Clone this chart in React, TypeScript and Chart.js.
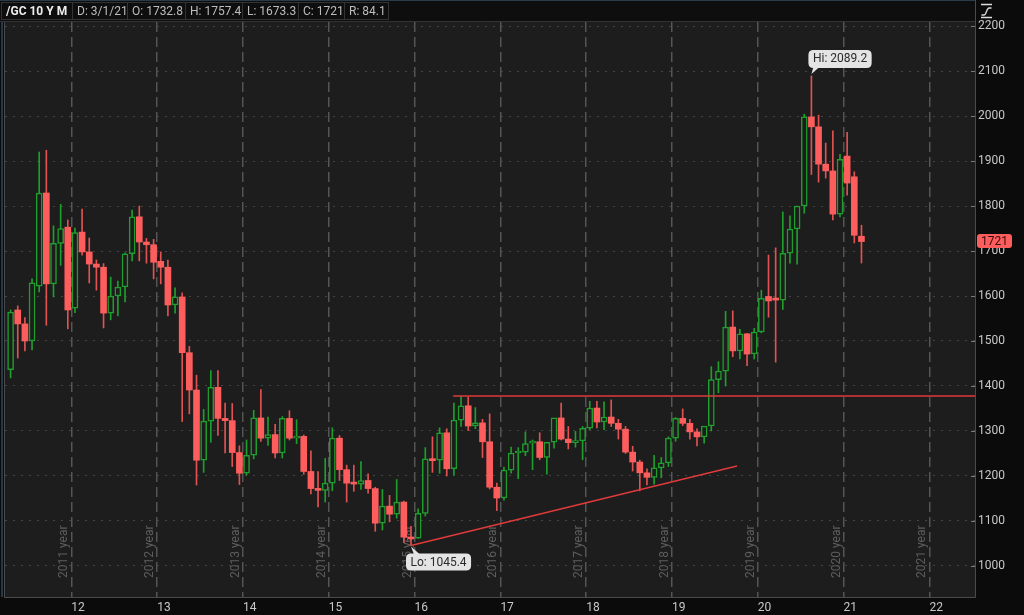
import React, { useEffect, useRef } from 'react';
import { Chart, registerables } from 'chart.js';

Chart.register(...registerables);

// ---- data: monthly /GC candles, Apr 2011 .. Mar 2021 ----
const months = [
  'Apr 2011', 'May 2011', 'Jun 2011', 'Jul 2011', 'Aug 2011', 'Sep 2011', 'Oct 2011', 'Nov 2011', 'Dec 2011',
  'Jan 2012', 'Feb 2012', 'Mar 2012', 'Apr 2012', 'May 2012', 'Jun 2012', 'Jul 2012', 'Aug 2012', 'Sep 2012', 'Oct 2012', 'Nov 2012', 'Dec 2012',
  'Jan 2013', 'Feb 2013', 'Mar 2013', 'Apr 2013', 'May 2013', 'Jun 2013', 'Jul 2013', 'Aug 2013', 'Sep 2013', 'Oct 2013', 'Nov 2013', 'Dec 2013',
  'Jan 2014', 'Feb 2014', 'Mar 2014', 'Apr 2014', 'May 2014', 'Jun 2014', 'Jul 2014', 'Aug 2014', 'Sep 2014', 'Oct 2014', 'Nov 2014', 'Dec 2014',
  'Jan 2015', 'Feb 2015', 'Mar 2015', 'Apr 2015', 'May 2015', 'Jun 2015', 'Jul 2015', 'Aug 2015', 'Sep 2015', 'Oct 2015', 'Nov 2015', 'Dec 2015',
  'Jan 2016', 'Feb 2016', 'Mar 2016', 'Apr 2016', 'May 2016', 'Jun 2016', 'Jul 2016', 'Aug 2016', 'Sep 2016', 'Oct 2016', 'Nov 2016', 'Dec 2016',
  'Jan 2017', 'Feb 2017', 'Mar 2017', 'Apr 2017', 'May 2017', 'Jun 2017', 'Jul 2017', 'Aug 2017', 'Sep 2017', 'Oct 2017', 'Nov 2017', 'Dec 2017',
  'Jan 2018', 'Feb 2018', 'Mar 2018', 'Apr 2018', 'May 2018', 'Jun 2018', 'Jul 2018', 'Aug 2018', 'Sep 2018', 'Oct 2018', 'Nov 2018', 'Dec 2018',
  'Jan 2019', 'Feb 2019', 'Mar 2019', 'Apr 2019', 'May 2019', 'Jun 2019', 'Jul 2019', 'Aug 2019', 'Sep 2019', 'Oct 2019', 'Nov 2019', 'Dec 2019',
  'Jan 2020', 'Feb 2020', 'Mar 2020', 'Apr 2020', 'May 2020', 'Jun 2020', 'Jul 2020', 'Aug 2020', 'Sep 2020', 'Oct 2020', 'Nov 2020', 'Dec 2020',
  'Jan 2021', 'Feb 2021', 'Mar 2021',
];

const opens = [
  1436, 1569, 1538, 1500, 1622, 1829, 1627, 1717, 1753,
  1573, 1742, 1698, 1671, 1664, 1562, 1600, 1620, 1694, 1776, 1720, 1714,
  1677, 1664, 1580, 1598, 1474, 1391, 1235, 1322, 1397, 1328, 1323, 1252,
  1206, 1246, 1329, 1284, 1292, 1251, 1328, 1284, 1288, 1210, 1172, 1168,
  1184, 1284, 1214, 1184, 1182, 1190, 1172, 1095, 1133, 1115, 1142, 1064,
  1062, 1117, 1238, 1235, 1296, 1216, 1324, 1356, 1311, 1318, 1276, 1175,
  1151, 1213, 1251, 1253, 1273, 1276, 1241, 1275, 1329, 1282, 1274, 1278,
  1306, 1351, 1320, 1331, 1317, 1304, 1253, 1231, 1207, 1197, 1218, 1229,
  1284, 1328, 1317, 1298, 1287, 1311, 1414, 1433, 1531, 1478, 1516, 1471,
  1520, 1599, 1594, 1591, 1695, 1749, 1800, 1998, 1976, 1893, 1878, 1782,
  1911, 1865, 1732.8,
];

const highs = [
  1569, 1578, 1552, 1638, 1920, 1924, 1756, 1804, 1769,
  1751, 1793, 1729, 1680, 1672, 1642, 1633, 1696, 1791, 1800, 1728, 1726,
  1698, 1680, 1618, 1607, 1488, 1424, 1348, 1434, 1434, 1362, 1361, 1267,
  1280, 1346, 1392, 1331, 1315, 1332, 1345, 1325, 1291, 1256, 1210, 1239,
  1307, 1290, 1224, 1224, 1232, 1205, 1175, 1170, 1157, 1192, 1144, 1088,
  1127, 1263, 1287, 1307, 1305, 1362, 1377, 1375, 1352, 1326, 1338, 1184,
  1220, 1264, 1263, 1298, 1280, 1296, 1275, 1325, 1362, 1310, 1299, 1310,
  1366, 1366, 1365, 1369, 1326, 1310, 1266, 1235, 1216, 1246, 1241, 1287,
  1330, 1349, 1326, 1305, 1310, 1443, 1454, 1566, 1567, 1526, 1517, 1528,
  1613, 1691, 1707, 1787, 1778, 1800, 2004, 2089.2, 2002, 1940, 1967, 1915,
  1964, 1876, 1757.4,
];

const lows = [
  1418, 1462, 1478, 1480, 1609, 1535, 1598, 1668, 1527,
  1563, 1691, 1629, 1613, 1529, 1547, 1556, 1587, 1678, 1678, 1673, 1638,
  1627, 1556, 1562, 1321, 1338, 1180, 1208, 1275, 1290, 1251, 1221, 1181,
  1202, 1238, 1277, 1268, 1240, 1240, 1280, 1272, 1204, 1160, 1131, 1142,
  1167, 1190, 1142, 1166, 1170, 1162, 1077, 1080, 1098, 1106, 1052, 1045.4,
  1061, 1111, 1208, 1206, 1200, 1202, 1310, 1301, 1305, 1241, 1171, 1123,
  1146, 1206, 1194, 1245, 1214, 1236, 1204, 1262, 1280, 1260, 1264, 1236,
  1303, 1307, 1303, 1310, 1282, 1250, 1211, 1167, 1180, 1182, 1196, 1221,
  1277, 1312, 1282, 1267, 1273, 1300, 1385, 1400, 1465, 1460, 1445, 1460,
  1518, 1553, 1453, 1570, 1673, 1671, 1784, 1870, 1853, 1862, 1769, 1776,
  1824, 1718, 1673.3,
];

const closes = [
  1564, 1538, 1500, 1629, 1829, 1627, 1717, 1750, 1569,
  1741, 1698, 1671, 1664, 1562, 1600, 1620, 1694, 1776, 1720, 1714, 1675,
  1664, 1580, 1598, 1474, 1391, 1235, 1322, 1397, 1328, 1323, 1252, 1206,
  1246, 1329, 1284, 1292, 1251, 1328, 1284, 1288, 1210, 1172, 1168, 1184,
  1284, 1214, 1184, 1182, 1190, 1172, 1095, 1133, 1115, 1142, 1064, 1060,
  1117, 1238, 1234, 1296, 1216, 1324, 1356, 1311, 1318, 1276, 1175, 1151,
  1213, 1251, 1253, 1272, 1276, 1241, 1275, 1329, 1282, 1274, 1278, 1306,
  1351, 1320, 1331, 1317, 1304, 1253, 1231, 1207, 1197, 1218, 1229, 1284,
  1328, 1317, 1298, 1287, 1311, 1414, 1433, 1531, 1478, 1516, 1471, 1520,
  1595, 1589, 1591, 1695, 1749, 1800, 1998, 1976, 1893, 1878, 1782, 1904,
  1851, 1735, 1721,
];

// year boundaries (between Dec and Jan bars, in bar-index units)
const yearBoundaries = [8.5, 20.5, 32.5, 44.5, 56.5, 68.5, 80.5, 92.5, 104.5, 116.5, 128.5];
const yearTickLabels = ['12', '13', '14', '15', '16', '17', '18', '19', '20', '21', '22'];
const yearTags = ['2011 year', '2012 year', '2013 year', '2014 year', '2015 year', '2016 year', '2017 year', '2018 year', '2019 year', '2020 year', '2021 year'];
const priceTicks = [1000, 1100, 1200, 1300, 1400, 1500, 1600, 1700, 1800, 1900, 2000, 2100, 2200];

// drawn trend lines (bar index, price)
const resistanceLine = [{ x: 61.9, y: 1377.5 }, { x: 134.9, y: 1377.5 }];
const supportLine = [{ x: 56, y: 1045.4 }, { x: 101.6, y: 1222 }];

const symbolLabel = '/GC 10 Y M';
const lastDateLabel = '3/1/21';

// ---- styling ----
const FONT = 'Roboto, "DejaVu Sans", sans-serif';
const PAGE_BG = '#0b0b0b';
const PLOT_BG = '#1d1d1d';
const GREEN = '#1f9e2e';
const RED = '#fd5d5d';
const RED_WICK = '#e25252';
const LINE_RED = '#e03a3a';

function roundRect(ctx: CanvasRenderingContext2D, x: number, y: number, w: number, h: number, r: number) {
  ctx.beginPath();
  ctx.moveTo(x + r, y);
  ctx.lineTo(x + w - r, y);
  ctx.quadraticCurveTo(x + w, y, x + w, y + r);
  ctx.lineTo(x + w, y + h - r);
  ctx.quadraticCurveTo(x + w, y + h, x + w - r, y + h);
  ctx.lineTo(x + r, y + h);
  ctx.quadraticCurveTo(x, y + h, x, y + h - r);
  ctx.lineTo(x, y + r);
  ctx.quadraticCurveTo(x, y, x + r, y);
  ctx.closePath();
}

const themePlugin = {
  id: 'tosTheme',
  beforeDraw(chart: any) {
    const { ctx, chartArea: a, width, height } = chart;
    ctx.save();
    ctx.fillStyle = PAGE_BG;
    ctx.fillRect(0, 0, width, height);
    ctx.fillStyle = PLOT_BG;
    ctx.fillRect(a.left, a.top, a.right - a.left, a.bottom - a.top);

    // header strip
    const n = closes.length - 1;
    ctx.fillStyle = '#0e0e0e';
    ctx.fillRect(0, 0, a.right, a.top - 1);
    ctx.fillStyle = '#2c3b48';
    ctx.fillRect(0, 0, a.right, 1);
    const cells = [
      { t: symbolLabel, bold: true, x0: 1, x1: 72 },
      { t: 'D: ' + lastDateLabel, x0: 72, x1: 127 },
      { t: 'O: ' + opens[n], x0: 127, x1: 185 },
      { t: 'H: ' + highs[n], x0: 185, x1: 242 },
      { t: 'L: ' + lows[n], x0: 242, x1: 298 },
      { t: 'C: ' + closes[n], x0: 298, x1: 344 },
      { t: 'R: ' + (highs[n] - lows[n]).toFixed(1), x0: 344, x1: 388 },
    ];
    ctx.strokeStyle = '#333';
    ctx.lineWidth = 1;
    ctx.textBaseline = 'middle';
    ctx.textAlign = 'left';
    for (const c of cells) {
      ctx.strokeRect(c.x0 + 0.5, 2.5, c.x1 - c.x0, 17);
      ctx.save();
      ctx.beginPath();
      ctx.rect(c.x0 + 1, 2, c.x1 - c.x0 - 2, 18);
      ctx.clip();
      ctx.font = (c.bold ? 'bold ' : '') + '12px ' + FONT;
      ctx.fillStyle = c.bold ? '#ececec' : '#bdbdbd';
      ctx.fillText(c.t, c.x0 + 5, 11.5);
      ctx.restore();
    }
    ctx.strokeStyle = '#333';
    ctx.beginPath();
    ctx.moveTo(0, a.top - 0.5);
    ctx.lineTo(a.right, a.top - 0.5);
    ctx.stroke();

    // top-right icon: two bars with an S-curve between them
    ctx.strokeStyle = '#dcdcdc';
    ctx.lineWidth = 1.3;
    ctx.beginPath();
    ctx.moveTo(981, 4.5); ctx.lineTo(992, 4.5);
    ctx.moveTo(981, 17.5); ctx.lineTo(992, 17.5);
    ctx.stroke();
    ctx.beginPath();
    ctx.moveTo(981.5, 15);
    ctx.lineTo(984, 15);
    ctx.bezierCurveTo(986.5, 15, 986.5, 8, 989, 8);
    ctx.lineTo(991.5, 8);
    ctx.stroke();
    ctx.restore();
  },
  beforeDatasetsDraw(chart: any) {
    const { ctx, chartArea: a, scales } = chart;
    ctx.save();
    ctx.font = '12px ' + FONT;
    ctx.fillStyle = '#5e5e5e';
    ctx.textAlign = 'left';
    ctx.textBaseline = 'middle';
    yearBoundaries.forEach((b, i) => {
      const x = scales.x.getPixelForValue(b);
      ctx.save();
      ctx.translate(x - 7, a.bottom - 19);
      ctx.rotate(-Math.PI / 2);
      ctx.fillText(yearTags[i], 0, 0);
      ctx.restore();
    });
    ctx.restore();
  },
  afterDatasetsDraw(chart: any) {
    const { ctx, chartArea: a, scales } = chart;
    const xs = scales.x;
    const ys = scales.y;
    ctx.save();
    // plot frame
    ctx.strokeStyle = '#4a4a4a';
    ctx.lineWidth = 1;
    ctx.beginPath();
    ctx.moveTo(a.right + 0.5, 0);
    ctx.lineTo(a.right + 0.5, a.bottom + 0.5);
    ctx.lineTo(a.left - 0.5, a.bottom + 0.5);
    ctx.lineTo(a.left - 0.5, a.top);
    ctx.stroke();
    ctx.fillStyle = '#24384a';
    ctx.fillRect(1, a.top, 2, a.bottom - a.top);
    // small price ticks on right edge
    ctx.strokeStyle = '#7a7a7a';
    ctx.beginPath();
    for (const v of priceTicks) {
      const y = Math.round(ys.getPixelForValue(v)) + 0.5;
      ctx.moveTo(a.right - 4, y);
      ctx.lineTo(a.right, y);
    }
    ctx.stroke();

    ctx.font = '12px ' + FONT;
    ctx.textBaseline = 'middle';
    ctx.textAlign = 'left';

    // Hi callout
    let hiIdx = 0;
    let loIdx = 0;
    highs.forEach((h, i) => { if (h > highs[hiIdx]) hiIdx = i; });
    lows.forEach((l, i) => { if (l < lows[loIdx]) loIdx = i; });
    const hx = xs.getPixelForValue(hiIdx);
    const hy = ys.getPixelForValue(highs[hiIdx]);
    const hiText = 'Hi: ' + highs[hiIdx].toFixed(1);
    const hw = ctx.measureText(hiText).width + 9;
    const hbTop = hy - 26;
    const hbLeft = hx - 3;
    ctx.fillStyle = '#e4e4e4';
    roundRect(ctx, hbLeft, hbTop, hw, 18, 5);
    ctx.fill();
    ctx.beginPath();
    ctx.moveTo(hx + 2, hbTop + 17);
    ctx.lineTo(hx + 8, hbTop + 17);
    ctx.lineTo(hx, hy - 2);
    ctx.closePath();
    ctx.fill();
    ctx.fillStyle = '#2a2a2a';
    ctx.fillText(hiText, hbLeft + 4.5, hbTop + 9.5);

    // Lo callout
    const lx = xs.getPixelForValue(loIdx);
    const ly = ys.getPixelForValue(lows[loIdx]);
    const loText = 'Lo: ' + lows[loIdx].toFixed(1);
    const lw = ctx.measureText(loText).width + 9;
    const lbTop = ly + 8;
    const lbLeft = lx - 5;
    ctx.fillStyle = '#e4e4e4';
    roundRect(ctx, lbLeft, lbTop, lw, 17, 5);
    ctx.fill();
    ctx.beginPath();
    ctx.moveTo(lx + 3, lbTop + 1);
    ctx.lineTo(lx + 9, lbTop + 1);
    ctx.lineTo(lx, ly + 1);
    ctx.closePath();
    ctx.fill();
    ctx.fillStyle = '#2a2a2a';
    ctx.fillText(loText, lbLeft + 4.5, lbTop + 9);

    // last price tag
    const n = closes.length - 1;
    const py = ys.getPixelForValue(closes[n]);
    ctx.fillStyle = RED;
    roundRect(ctx, a.right + 2, py - 7.5, 35, 14, 3);
    ctx.fill();
    ctx.fillStyle = '#3a0b0b';
    ctx.textAlign = 'center';
    ctx.fillText(String(closes[n]), a.right + 19.5, py);
    ctx.restore();
  },
};

export default function App() {
  const ref = useRef<HTMLCanvasElement>(null);
  useEffect(() => {
    const canvas = ref.current;
    if (!canvas) return;
    const up = months.map((_, i) => closes[i] >= opens[i]);
    const bodies = months.map((_, i) => ({ x: i, y: [opens[i], closes[i]] }));
    const wicks = months.map((_, i) => ({ x: i, y: [lows[i], highs[i]] }));
    const chart = new Chart(canvas, {
      type: 'bar',
      data: {
        datasets: [
          { type: 'line', label: 'Resistance', data: resistanceLine, borderColor: LINE_RED, borderWidth: 1.5, pointRadius: 0, order: 0 } as any,
          { type: 'line', label: 'Support', data: supportLine, borderColor: LINE_RED, borderWidth: 1.5, pointRadius: 0, order: 0 } as any,
          {
            type: 'bar', label: 'Body', data: bodies as any,
            backgroundColor: up.map((u) => (u ? PLOT_BG : RED)),
            borderColor: up.map((u) => (u ? GREEN : RED)),
            borderWidth: up.map((u) => (u ? 1.5 : 0)),
            borderSkipped: false, barThickness: 6, grouped: false, minBarLength: 2, order: 1,
          } as any,
          {
            type: 'bar', label: 'Wick', data: wicks as any,
            backgroundColor: up.map((u) => (u ? GREEN : RED_WICK)),
            borderWidth: 0, barThickness: 1, grouped: false, order: 2,
          } as any,
        ],
      },
      options: {
        responsive: false,
        animation: false,
        devicePixelRatio: 1,
        layout: { padding: { top: 22, left: 5, right: 0, bottom: 0 } },
        plugins: { legend: { display: false }, tooltip: { enabled: false } },
        events: [],
        scales: {
          x: {
            type: 'linear',
            min: -0.783,
            max: 134.88,
            offset: false,
            afterBuildTicks: (s: any) => { s.ticks = yearBoundaries.map((v) => ({ value: v })); },
            afterFit: (s: any) => { s.height = 18; },
            grid: { color: '#555555', lineWidth: 1.5, drawTicks: false, offset: false, borderDash: [10, 5] } as any,
            border: { display: false, dash: [10, 5] },
            ticks: {
              autoSkip: false, maxRotation: 0, minRotation: 0, align: 'start', padding: 4,
              color: '#c8c8c8', font: { family: FONT, size: 12 },
              callback: (_v: any, i: number) => yearTickLabels[i],
            },
          },
          y: {
            type: 'linear',
            position: 'right',
            min: 931,
            max: 2209,
            afterBuildTicks: (s: any) => { s.ticks = priceTicks.map((v) => ({ value: v })); },
            afterFit: (s: any) => { s.width = 49; },
            grid: { color: '#454545', lineWidth: 1, drawTicks: false, borderDash: [2, 6] } as any,
            border: { display: false, dash: [2, 6] },
            ticks: { color: '#c8c8c8', padding: 3, font: { family: FONT, size: 12 }, callback: (v: any) => String(v) },
          },
        },
      } as any,
      plugins: [themePlugin],
    });
    return () => chart.destroy();
  }, []);
  return (
    <div style={{ position: 'fixed', left: 0, top: 0, width: 1024, height: 615, background: PAGE_BG }}>
      <canvas ref={ref} width={1024} height={615} style={{ display: 'block', width: 1024, height: 615 }} />
    </div>
  );
}
